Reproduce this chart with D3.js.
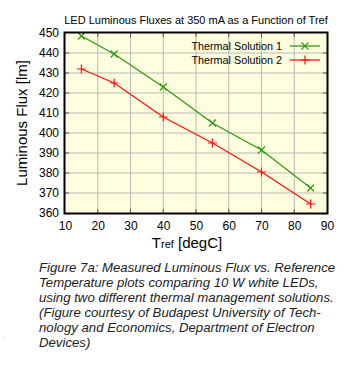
<!DOCTYPE html>
<html><head><meta charset="utf-8">
<script src="https://cdn.jsdelivr.net/npm/d3@7"></script>
<style>
html,body{margin:0;padding:0;background:#fff;}
svg{display:block;font-family:"Liberation Sans",Arial,sans-serif;}
</style></head><body>
<script>
const temps = [15, 25, 40, 55, 70, 85];
const solution1 = [448.5, 439.5, 423, 405, 391.5, 372.5];
const solution2 = [432, 425, 408, 395, 380.5, 364.5];
const seriesNames = ["Thermal Solution 1", "Thermal Solution 2"];
const xTicks = [10, 20, 30, 40, 50, 60, 70, 80, 90];
const yTicks = [360, 370, 380, 390, 400, 410, 420, 430, 440, 450];
const title = "LED Luminous Fluxes at 350 mA as a Function of Tref";
const caption = [
  "Figure 7a: Measured Luminous Flux vs. Reference",
  "Temperature plots comparing 10 W white LEDs,",
  "using two different thermal management solutions.",
  "(Figure courtesy of Budapest University of Tech-",
  "nology and Economics, Department of Electron",
  "Devices)"
];

const W = 357, H = 365;
const L = 65, R = 327, T = 33, B = 213;
const svg = d3.select("body").append("svg").attr("width", W).attr("height", H);

const x = d3.scaleLinear().domain([10, 90]).range([L, R]);
const y = d3.scaleLinear().domain([360, 450]).range([B, T]);

svg.append("rect").attr("x", L).attr("y", T).attr("width", R - L).attr("height", B - T)
  .attr("fill", "#ffffe0");

// grid
const g = svg.append("g");
g.selectAll(".vg").data(xTicks.slice(1, -1)).join("line")
  .attr("x1", d => x(d)).attr("x2", d => x(d)).attr("y1", T).attr("y2", B)
  .attr("stroke", "#b8b8b8").attr("stroke-width", 1);
g.selectAll(".hg").data(yTicks.slice(1, -1)).join("line")
  .attr("y1", d => y(d)).attr("y2", d => y(d)).attr("x1", L).attr("x2", R)
  .attr("stroke", "#b8b8b8").attr("stroke-width", 1);

// axes (tick labels)
const xAxis = d3.axisBottom(x).tickValues(xTicks).tickSize(0).tickPadding(8);
const gx = svg.append("g").attr("transform", `translate(0,${B})`).call(xAxis);
gx.select(".domain").remove();
gx.selectAll("text").attr("font-size", 12).attr("fill", "#000").attr("font-family", "Liberation Sans, Arial, sans-serif");

const yAxis = d3.axisLeft(y).tickValues(yTicks).tickSize(0).tickPadding(6);
const gy = svg.append("g").attr("transform", `translate(${L},0)`).call(yAxis);
gy.select(".domain").remove();
gy.selectAll("text").attr("font-size", 12).attr("fill", "#000").attr("font-family", "Liberation Sans, Arial, sans-serif");

// inner ticks on all sides
const tk = 4;
svg.append("g").selectAll("line").data(xTicks.slice(1, -1)).join(enter => {
  const gg = enter.append("g");
  gg.append("line").attr("x1", d => x(d)).attr("x2", d => x(d)).attr("y1", T).attr("y2", T + tk);
  gg.append("line").attr("x1", d => x(d)).attr("x2", d => x(d)).attr("y1", B).attr("y2", B - tk);
  return gg;
}).selectAll("line").attr("stroke", "#555").attr("stroke-width", 1);
svg.append("g").selectAll("g").data(yTicks.slice(1, -1)).join(enter => {
  const gg = enter.append("g");
  gg.append("line").attr("y1", d => y(d)).attr("y2", d => y(d)).attr("x1", L).attr("x2", L + tk);
  gg.append("line").attr("y1", d => y(d)).attr("y2", d => y(d)).attr("x1", R).attr("x2", R - tk);
  return gg;
}).selectAll("line").attr("stroke", "#555").attr("stroke-width", 1);

// series
const series = [
  { name: seriesNames[0], vals: solution1, color: "#2f9a10", marker: "x" },
  { name: seriesNames[1], vals: solution2, color: "#ff1010", marker: "+" }
];
const line = d3.line().x(d => x(d[0])).y(d => y(d[1]));
function drawMarker(sel, type, color) {
  const s = 3.5;
  if (type === "x") {
    sel.append("path").attr("d", `M${-s},${-s}L${s},${s}M${-s},${s}L${s},${-s}`);
  } else {
    sel.append("path").attr("d", `M${-s - 1},0L${s + 1},0M0,${-s - 1}L0,${s + 1}`);
  }
  sel.selectAll("path").attr("stroke", color).attr("stroke-width", 1.2).attr("fill", "none");
}
series.forEach(s => {
  const pts = temps.map((t, i) => [t, s.vals[i]]);
  svg.append("path").datum(pts).attr("d", line).attr("fill", "none")
    .attr("stroke", s.color).attr("stroke-width", 1.3);
  svg.append("g").selectAll("g").data(pts).join("g")
    .attr("transform", d => `translate(${x(d[0])},${y(d[1])})`)
    .each(function () { drawMarker(d3.select(this), s.marker, s.color); });
});

// legend
series.forEach((s, i) => {
  const ly = 46 + i * 14;
  svg.append("text").attr("x", 282).attr("y", ly).attr("dy", "0.35em")
    .attr("text-anchor", "end").attr("font-size", 10.8).text(s.name);
  svg.append("line").attr("x1", 290).attr("x2", 320).attr("y1", ly).attr("y2", ly)
    .attr("stroke", s.color).attr("stroke-width", 1.3);
  const mg = svg.append("g").attr("transform", `translate(305,${ly})`);
  drawMarker(mg, s.marker, s.color);
});

// frame
svg.append("rect").attr("x", L - 0.5).attr("y", T - 0.5).attr("width", R - L + 1).attr("height", B - T + 1)
  .attr("fill", "none").attr("stroke", "#000").attr("stroke-width", 2);

// title
svg.append("text").attr("x", 196).attr("y", 24).attr("text-anchor", "middle")
  .attr("font-size", 11).text(title);

// axis labels
svg.append("text").attr("transform", `translate(27,${(T + B) / 2}) rotate(-90)`)
  .attr("text-anchor", "middle").attr("font-size", 15).text("Luminous Flux [lm]");
const xl = svg.append("text").attr("x", 187).attr("y", 248).attr("text-anchor", "middle")
  .attr("font-size", 15);
xl.append("tspan").text("T");
xl.append("tspan").attr("font-size", 11).text("ref");
xl.append("tspan").text(" [degC]");

// caption
svg.append("g").selectAll("text").data(caption).join("text")
  .attr("x", 39).attr("y", (d, i) => 272 + i * 15)
  .attr("font-size", 13.2).attr("font-style", "italic").attr("fill", "#222").text(d => d);

svg.append("text").attr("x", 3).attr("y", 338).attr("font-size", 8).attr("fill", "#999").text(".");
</script>
</body></html>
